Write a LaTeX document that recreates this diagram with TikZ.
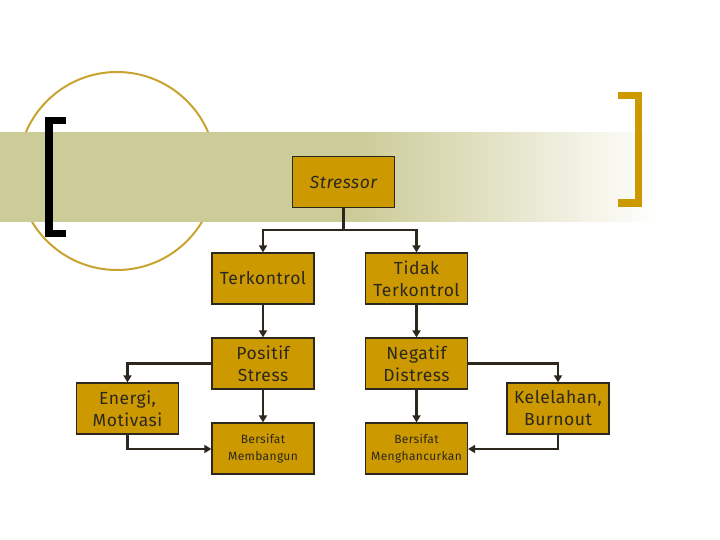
\documentclass[tikz,border=0pt]{standalone}
\usepackage{fontspec}
\setmainfont{Fira Sans}
\usetikzlibrary{arrows.meta}
\definecolor{boxfill}{RGB}{204,153,0}
\definecolor{band}{RGB}{204,204,153}
\definecolor{ring}{RGB}{201,163,48}
\definecolor{ink}{RGB}{45,40,30}
\tikzset{
  box/.style={draw=ink, line width=1.2pt, fill=boxfill, minimum width=102pt, minimum height=51pt, text width=98pt, inner sep=2pt, align=center, text=ink, font=\fontsize{17.5}{22}\selectfont\addfontfeatures{LetterSpace=3}},
  smallbox/.style={box, font=\fontsize{12}{17}\selectfont\addfontfeatures{LetterSpace=3}},
  conn/.style={draw=ink, line width=2.5pt, -{Triangle[length=7pt,width=8pt]}},
  plainconn/.style={draw=ink, line width=2.5pt},
}
\begin{document}
\begin{tikzpicture}[x=1pt,y=-1pt]
\useasboundingbox (0,0) rectangle (720,540);
% circle behind band
\draw[ring, line width=2pt] (117,171) circle (99);
% band
\fill[band] (0,132) rectangle (361,222);
\foreach \i in {0,...,74} {
  \pgfmathsetmacro{\p}{100-\i*100/74}
  \fill[band!\p!white] ({360+\i*4},132) rectangle ({364.6+\i*4},222);
}
% left bracket
\fill[black] (45,117) rectangle (66,124);
\fill[black] (45,117) rectangle (53,237);
\fill[black] (45,230) rectangle (66,237);
% right bracket
\fill[boxfill] (618,92) rectangle (642,99);
\fill[boxfill] (635,92) rectangle (642,207);
\fill[boxfill] (618,199) rectangle (642,207);
% nodes
\node[box, font=\fontsize{17.5}{22}\selectfont\itshape\addfontfeatures{LetterSpace=3}] (stressor) at (343.5,182) {Stressor};
\node[box] (terk) at (263,278.5) {Terkontrol};
\node[box] (tidak) at (416.5,278.5) {Tidak\\Terkontrol};
\node[box] (pos) at (263,363.5) {Positif\\Stress};
\node[box] (neg) at (416.5,363.5) {Negatif\\Distress};
\node[smallbox] (memb) at (263,448.5) {Bersifat\\Membangun};
\node[smallbox] (meng) at (416.5,448.5) {Bersifat\\Menghancurkan};
\node[box] (energi) at (127.5,408.5) {Energi,\\Motivasi};
\node[box] (kel) at (558,408.5) {Kelelahan,\\Burnout};
% connectors
\coordinate (split) at (343.5,230);
\draw[plainconn] (stressor.south) -- (split);
\draw[conn] (split) -| (terk.north);
\draw[conn] (split) -| (tidak.north);
\draw[conn] (terk) -- (pos);
\draw[conn] (tidak) -- (neg);
\draw[conn] (pos) -- (memb);
\draw[conn] (neg) -- (meng);
\draw[conn] (pos.west) -| (energi.north);
\draw[conn] (neg.east) -| (kel.north);
\draw[conn] (energi.south) |- ([yshift=-0.5pt]memb.west);
\draw[conn] (kel.south) |- ([yshift=-0.5pt]meng.east);
\end{tikzpicture}
\end{document}
